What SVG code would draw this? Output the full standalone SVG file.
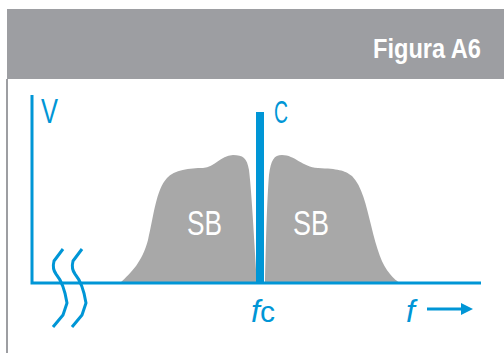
<svg xmlns="http://www.w3.org/2000/svg" width="504" height="353" viewBox="0 0 504 353">
<style>
.blue{fill:#0096d6}
.ax{stroke:#0096d6;stroke-width:3;fill:none}
.brk{stroke:#0096d6;stroke-width:3;fill:none;stroke-linejoin:round}
.lbl{font-family:"Liberation Sans",Arial,sans-serif;fill:#0096d6}
.sb{font-family:"Liberation Sans",Arial,sans-serif;fill:#ffffff;font-size:35px}
.band{fill:#a8a8a8}
</style>
<rect width="504" height="353" fill="#ffffff"/>
<g id="header">
<rect x="7" y="9" width="497" height="70" fill="#9d9ea2"/>
<text x="481" y="58" text-anchor="end" font-family="'Liberation Sans',Arial,sans-serif" font-weight="bold" font-size="28" fill="#ffffff" textLength="108" lengthAdjust="spacingAndGlyphs">Figura A6</text>
</g>
<rect id="frame-left" x="6" y="79" width="2" height="274" fill="#9d9ea2"/>
<g id="sideband-left">
<path class="band" d="M120,283 C132,272 142,262 148,240 C154,215 156,190 167,178 C174,170 190,168 203,168 C215,167 220,156 233,155 C243,155 247,158 249,170 C252,195 254,240 257,283 Z"/>
<text class="sb" x="187" y="235" textLength="35" lengthAdjust="spacingAndGlyphs">SB</text>
</g>
<g id="sideband-right">
<path class="band" d="M265,283 C266,240 267,200 269,175 C271,160 274,155 282,155 C295,155 302,167 318,168 C338,169 344,170 352,176 C362,186 366,205 371,225 C377,250 382,265 390,274 C394,279 397,281 400,283 Z"/>
<text class="sb" x="293" y="235" textLength="36" lengthAdjust="spacingAndGlyphs">SB</text>
</g>
<g id="connectors">
<path class="ax" d="M32,95 V283 H481"/>
<path class="brk" d="M63,249 L54,261 C53,265 53,270 56,274 C61,280 65,290 67,303 L63,315 L53,327"/>
<path class="brk" d="M82,249 L73,261 C72,265 72,270 75,274 C80,280 84,290 86,303 L82,315 L72,327"/>
<line x1="427" y1="309" x2="463" y2="309" stroke="#0096d6" stroke-width="3"/>
<polygon class="blue" points="461,303 473,309 461,315"/>
</g>
<g id="carrier">
<rect class="blue" x="256" y="112" width="8" height="172"/>
<text class="lbl" x="274" y="123" font-size="31" textLength="14" lengthAdjust="spacingAndGlyphs">C</text>
</g>
<g id="labels">
<text class="lbl" x="41" y="123" font-size="35" textLength="17" lengthAdjust="spacingAndGlyphs">V</text>
<text class="lbl" x="251" y="322" font-size="32"><tspan font-style="italic">f</tspan><tspan font-size="30">c</tspan></text>
<text class="lbl" x="406" y="322" font-size="32" font-style="italic">f</text>
</g>
</svg>
